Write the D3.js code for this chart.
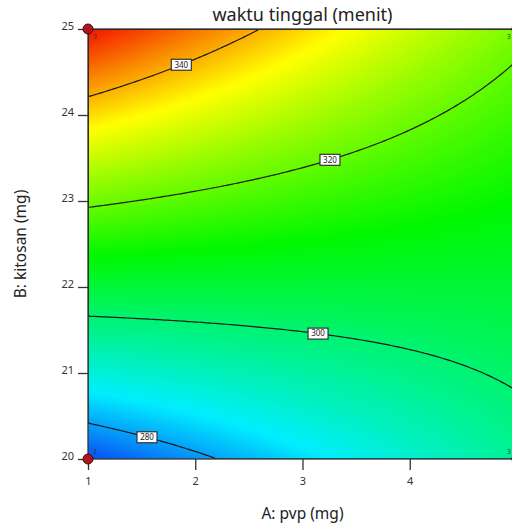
<!DOCTYPE html>
<html>
<head>
<meta charset="utf-8">
<script src="https://cdn.jsdelivr.net/npm/d3@7"></script>
<style>
  body { margin: 0; background: #fff; }
  text { font-family: "Noto Sans", "Open Sans", sans-serif; }
</style>
</head>
<body>
<svg id="chart" width="512" height="528"></svg>
<script>
// points read along each contour line of the reference (pvp mg, kitosan mg)
const contourLevels = [280, 300, 320, 340];
const levelWeights = [4, 1, 1, 1];
const pvp280 = [1, 1.55, 1.84, 2.12];
const kit280 = [20.395, 20.30, 20.163, 20.0];
const pvp300 = [1, 1.93, 3.145, 3.40, 4.82, 4.95];
const kit300 = [21.663, 21.597, 21.492, 21.384, 20.919, 20.860];
const pvp320 = [1, 1.93, 2.79, 3.256, 3.844, 4.422, 4.953];
const kit320 = [22.934, 23.070, 23.291, 23.515, 23.709, 24.070, 24.610];
const pvp340 = [1, 1.42, 1.87, 2.24, 2.62];
const kit340 = [24.20, 24.37, 24.62, 24.79, 25.0];
const labelPvp = [1.55, 3.145, 3.256, 1.87];

const pvpTicks = [1, 2, 3, 4];
const kitosanTicks = [20, 21, 22, 23, 24, 25];
const colorStops = [272, 286, 311, 334, 351];
const colorRange = ["#0a3cf2", "#00eeff", "#00f800", "#ffff00", "#f52000"];
const designPvp = [1, 1, 5, 5];
const designKitosan = [20, 25, 20, 25];
const designReps = [3, 3, 3, 3];

const svg = d3.select("#chart");
const x = d3.scaleLinear().domain([1, 5]).range([88, 517]);
const y = d3.scaleLinear().domain([20, 25]).range([459, 29]);

// least-squares reduced cubic surface through the read contour points
const terms = (A, B) => {
  const a = (A - 3) / 2, b = (B - 22.5) / 2.5;
  return [1, a, b, a*b, a*a, b*b, a*a*b, a*b*b];
};
const obs = [];
[[pvp280, kit280], [pvp300, kit300], [pvp320, kit320], [pvp340, kit340]].forEach(([ps, ks], k) => {
  ps.forEach((p, i) => obs.push({ t: terms(p, ks[i]), v: contourLevels[k], w: levelWeights[k] }));
});
const nt = 8;
const M = d3.range(nt).map(r => d3.range(nt + 1).map(() => 0));
obs.forEach(o => {
  for (let r = 0; r < nt; r++) {
    for (let c = 0; c < nt; c++) M[r][c] += o.w * o.t[r] * o.t[c];
    M[r][nt] += o.w * o.t[r] * o.v;
  }
});
for (let r = 0; r < nt; r++) M[r][r] += 1e-4;
for (let c = 0; c < nt; c++) {
  let p = c;
  for (let r = c + 1; r < nt; r++) if (Math.abs(M[r][c]) > Math.abs(M[p][c])) p = r;
  [M[c], M[p]] = [M[p], M[c]];
  for (let r = 0; r < nt; r++) {
    if (r === c) continue;
    const f = M[r][c] / M[c][c];
    for (let k = c; k <= nt; k++) M[r][k] -= f * M[c][k];
  }
}
const coefs = M.map((row, r) => row[nt] / row[r]);
const model = (A, B) => d3.sum(terms(A, B), (t, i) => t * coefs[i]);

// sample the surface on a grid
const nx = 160, ny = 180;
const grid = new Array(nx * ny);
for (let j = 0; j < ny; j++) {
  for (let i = 0; i < nx; i++) {
    grid[j*nx + i] = model(1 + (i + 0.5) * 4 / nx, 25 - (j + 0.5) * 5 / ny);
  }
}
const [lo, hi] = d3.extent(grid);
const color = d3.scaleLinear().domain(colorStops).range(colorRange).clamp(true);

const path = d3.geoPath(d3.geoTransform({
  point: function(px, py) {
    this.stream.point(x(1 + px * 4 / nx), y(25 - py * 5 / ny));
  }
}));

svg.append("defs").append("clipPath").attr("id", "plotclip")
  .append("rect").attr("x", x(1)).attr("y", y(25))
  .attr("width", x(5) - x(1)).attr("height", y(20) - y(25));

const plot = svg.append("g").attr("clip-path", "url(#plotclip)");

// filled gradient bands
const step = 0.5;
const bands = d3.range(Math.floor(lo), Math.ceil(hi), step);
plot.append("rect").attr("x", x(1)).attr("y", y(25))
  .attr("width", x(5) - x(1)).attr("height", y(20) - y(25))
  .attr("fill", color(lo));
plot.selectAll("path.band")
  .data(d3.contours().size([nx, ny]).thresholds(bands)(grid))
  .join("path")
  .attr("class", "band")
  .attr("d", path)
  .attr("fill", d => color(d.value + step / 2))
  .attr("stroke", d => color(d.value + step / 2))
  .attr("stroke-width", 0.6);

// contour lines
plot.selectAll("path.level")
  .data(d3.contours().size([nx, ny]).thresholds(contourLevels)(grid))
  .join("path")
  .attr("class", "level")
  .attr("d", path)
  .attr("fill", "none")
  .attr("stroke", "#1a1a1a")
  .attr("stroke-width", 1.2);

// contour labels
const solveB = (A, level) => {
  let b0 = 20, b1 = 25;
  for (let k = 0; k < 40; k++) {
    const m = (b0 + b1) / 2;
    if ((model(A, m) - level) * (model(A, b0) - level) <= 0) b1 = m; else b0 = m;
  }
  return (b0 + b1) / 2;
};
const lab = plot.selectAll("g.lab")
  .data(contourLevels.map((lv, k) => ({ lv, A: labelPvp[k], B: solveB(labelPvp[k], lv) })))
  .join("g")
  .attr("class", "lab")
  .attr("transform", d => `translate(${x(d.A)},${y(d.B)})`);
lab.append("rect").attr("x", -10).attr("y", -5.5).attr("width", 20).attr("height", 11)
  .attr("fill", "#fff").attr("stroke", "#333").attr("stroke-width", 1.2);
lab.append("text").attr("text-anchor", "middle").attr("dy", "0.35em")
  .attr("font-size", 8).attr("fill", "#222").text(d => d.lv);

// frame
svg.append("rect").attr("x", x(1)).attr("y", y(25))
  .attr("width", x(5) - x(1)).attr("height", y(20) - y(25))
  .attr("fill", "none").attr("stroke", "#333").attr("stroke-width", 1.3);

// axes
const xAxis = svg.append("g").attr("transform", `translate(0,${y(20)})`)
  .call(d3.axisBottom(x).tickValues(pvpTicks).tickFormat(d3.format("d")).tickSize(11).tickPadding(7));
const yAxis = svg.append("g").attr("transform", `translate(${x(1)},0)`)
  .call(d3.axisLeft(y).tickValues(kitosanTicks).tickFormat(d3.format("d")).tickSize(10).tickPadding(4));
[xAxis, yAxis].forEach(g => {
  g.select(".domain").remove();
  g.selectAll(".tick line").attr("stroke", "#333").attr("stroke-width", 1.3);
  g.selectAll(".tick text").attr("font-family", "Noto Sans, sans-serif")
    .attr("font-size", 11).attr("fill", "#333");
});
yAxis.selectAll(".tick text").attr("dy", "0.05em");

// design points
const pts = designPvp.map((A, k) => ({ A, B: designKitosan[k], n: designReps[k] }));
svg.selectAll("circle.pt")
  .data(pts)
  .join("circle")
  .attr("class", "pt")
  .attr("cx", d => x(d.A)).attr("cy", d => y(d.B)).attr("r", 5)
  .attr("fill", "#b0141e").attr("stroke", "#4a0808").attr("stroke-width", 1);
svg.selectAll("text.rep")
  .data(pts)
  .join("text")
  .attr("class", "rep")
  .attr("x", d => d.A < 3 ? x(d.A) + 5 : 507)
  .attr("y", d => d.B > 22.5 ? y(d.B) + 10 : y(d.B) - 5)
  .attr("font-size", 6.5).attr("fill", "#333")
  .text(d => d.n);

// titles
const cx = (x(1) + x(5)) / 2;
svg.append("text").attr("x", cx).attr("y", 21).attr("text-anchor", "middle")
  .attr("font-size", 18).attr("fill", "#222").text("waktu tinggal (menit)");
svg.append("text").attr("x", cx).attr("y", 519).attr("text-anchor", "middle")
  .attr("font-size", 15.5).attr("fill", "#222").text("A: pvp (mg)");
svg.append("text").attr("transform", `translate(26,${(y(20) + y(25)) / 2}) rotate(-90)`)
  .attr("text-anchor", "middle").attr("font-size", 15.5).attr("fill", "#222")
  .text("B: kitosan (mg)");
</script>
</body>
</html>
